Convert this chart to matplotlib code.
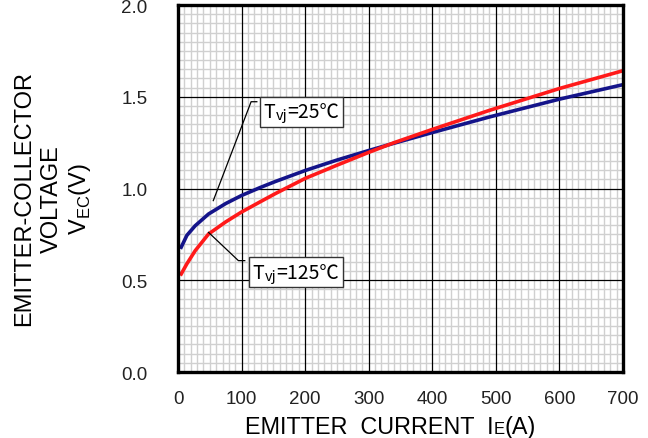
import numpy as np
import matplotlib.pyplot as plt
from matplotlib.ticker import MultipleLocator
from matplotlib.offsetbox import TextArea, HPacker, AnnotationBbox

plt.rcParams['font.family'] = ['Liberation Sans', 'DejaVu Sans']
plt.rcParams['mathtext.fontset'] = 'custom'
plt.rcParams['mathtext.rm'] = 'Liberation Sans'

# emitter current IE [A]
ie_25 = [5, 14, 27, 48, 75, 100, 129, 153, 200, 250, 300, 340, 400, 490, 600, 700]
# emitter-collector voltage VEC [V] at Tvj = 25C
vec_25 = [0.68, 0.745, 0.797, 0.861, 0.918, 0.962, 1.005, 1.038, 1.098, 1.155,
          1.207, 1.247, 1.305, 1.39, 1.487, 1.566]

ie_125 = [5, 14, 27, 48, 75, 100, 129, 153, 200, 250, 300, 340, 400, 490, 600, 700]
# emitter-collector voltage VEC [V] at Tvj = 125C
vec_125 = [0.534, 0.59, 0.661, 0.752, 0.818, 0.872, 0.927, 0.972, 1.055, 1.127,
           1.197, 1.25, 1.322, 1.426, 1.545, 1.642]

xticks = [0, 100, 200, 300, 400, 500, 600, 700]
yticks = [0.0, 0.5, 1.0, 1.5, 2.0]

fig = plt.figure(figsize=(6.48, 4.39), dpi=100)
ax = fig.add_axes([0.2747, 0.1503, 0.6867, 0.8360])

ax.set_xlim(0, 700)
ax.set_ylim(0, 2.0)
ax.set_xticks(xticks)
ax.set_yticks(yticks)
ax.set_yticklabels(['%.1f' % v for v in yticks])

# fine grid underneath, coarse grid drawn as plain lines on top of it
ax.xaxis.set_minor_locator(MultipleLocator(10))
ax.yaxis.set_minor_locator(MultipleLocator(0.05))
ax.grid(which='minor', color='#d0d0d0', lw=1.0)
ax.set_axisbelow(True)
for x in xticks[1:]:
    ax.axvline(x, color='black', lw=0.9, zorder=1.5)
for y in yticks[1:]:
    ax.axhline(y, color='black', lw=0.9, zorder=1.5)

ax.plot(ie_25, vec_25, color='#14148a', lw=2.6, zorder=3)
ax.plot(ie_125, vec_125, color='#ff1a1a', lw=2.6, zorder=3)

ax.tick_params(which='both', length=0)
ax.tick_params(axis='x', pad=13, labelsize=13.5, colors='#222222')
ax.tick_params(axis='y', pad=22, labelsize=13.5, colors='#222222')
for s in ax.spines.values():
    s.set_linewidth(2.4)
    s.set_zorder(5)

# x label: small "E" sitting on the baseline after "I"
xl = HPacker(children=[TextArea('EMITTER  CURRENT  I', textprops=dict(fontsize=16.8)),
                       TextArea('E', textprops=dict(fontsize=12)),
                       TextArea('(A)', textprops=dict(fontsize=16.8))],
             align='baseline', pad=0, sep=0)
fig.add_artist(AnnotationBbox(xl, (0.603, 0.0), xycoords='figure fraction',
                              box_alignment=(0.5, 0.0), frameon=False, pad=0))

fig.text(0.037, 0.547, 'EMITTER-COLLECTOR', rotation=90, fontsize=17,
         ha='center', va='center')
fig.text(0.080, 0.547, 'VOLTAGE', rotation=90, fontsize=17,
         ha='center', va='center')
fig.text(0.123, 0.547, r'V$_{\mathrm{EC}}$(V)', rotation=90, fontsize=17,
         ha='center', va='center')

# curve labels with leader lines
cjk = ['Noto Sans CJK JP', 'DejaVu Sans']


def tlabel(text, xy):
    parts = [TextArea('T', textprops=dict(fontsize=14, family=cjk)),
             TextArea('vj', textprops=dict(fontsize=10.5, family=cjk)),
             TextArea(text, textprops=dict(fontsize=14, family=cjk))]
    pack = HPacker(children=parts, align='bottom', pad=0, sep=0)
    ab = AnnotationBbox(pack, xy, xycoords='data', box_alignment=(0, 0.5),
                        frameon=True, pad=0.3,
                        bboxprops=dict(boxstyle='square,pad=0.3', fc='white',
                                       ec='#333333', lw=1.0))
    ab.set_zorder(6)
    ax.add_artist(ab)


ax.plot([55.5, 115, 124], [0.934, 1.473, 1.473], color='black', lw=0.9, zorder=4)
tlabel('=25℃', (135, 1.417))
ax.plot([48, 95, 105], [0.761, 0.607, 0.607], color='black', lw=0.9, zorder=4)
tlabel('=125℃', (117.5, 0.545))

fig.savefig('out.png', dpi=100)
